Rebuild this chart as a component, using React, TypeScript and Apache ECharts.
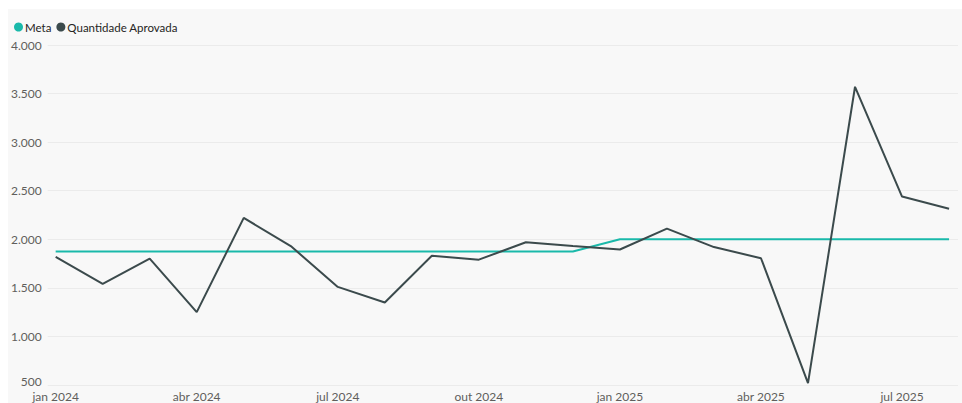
import React, { useEffect, useRef } from "react";
import * as echarts from "echarts";

const months = [
  "jan 2024", "fev 2024", "mar 2024", "abr 2024", "mai 2024", "jun 2024",
  "jul 2024", "ago 2024", "set 2024", "out 2024", "nov 2024", "dez 2024",
  "jan 2025", "fev 2025", "mar 2025", "abr 2025", "mai 2025", "jun 2025",
  "jul 2025", "ago 2025",
];
const meta = [
  1875, 1875, 1875, 1875, 1875, 1875, 1875, 1875, 1875, 1875, 1875, 1875,
  2000, 2000, 2000, 2000, 2000, 2000, 2000, 2000,
];
const quantidade = [
  1820, 1540, 1800, 1250, 2220, 1930, 1510, 1350, 1830, 1790, 1970, 1930,
  1895, 2110, 1920, 1805, 520, 3570, 2440, 2315,
];
const labelIdx = [0, 3, 6, 9, 12, 15, 18];

const fmt = (v: number) =>
  String(Math.round(v)).replace(/\B(?=(\d{3})+(?!\d))/g, ".");

export default function App() {
  const ref = useRef<HTMLDivElement>(null);
  useEffect(() => {
    document.body.style.margin = "0";
    const chart = echarts.init(ref.current!, undefined, { renderer: "svg" });
    const font = "'Segoe UI', Lato, 'Noto Sans', sans-serif";
    chart.setOption({
      animation: false,
      backgroundColor: "#f8f8f8",
      textStyle: { fontFamily: font },
      legend: {
        left: 1,
        top: 7,
        itemWidth: 9,
        itemHeight: 9,
        itemGap: 5,
        icon: "circle",
        textStyle: { fontSize: 11.5, color: "#252423", fontFamily: font, padding: [0, 0, 0, -3] },
        data: ["Meta", "Quantidade Aprovada"],
      },
      grid: { left: 37, right: 4, top: 36, bottom: 18 },
      xAxis: {
        type: "value",
        min: -0.17,
        max: 19.19,
        axisLine: { show: false },
        axisTick: { show: false },
        splitLine: { show: false },
        axisLabel: {
          customValues: labelIdx,
          formatter: (v: number) => months[Math.round(v)],
          fontSize: 12,
          color: "#605e5c",
          margin: 5,
          fontFamily: font,
        },
      },
      yAxis: {
        type: "value",
        min: 500,
        max: 4000,
        interval: 500,
        axisLine: { show: false },
        axisTick: { show: false },
        splitLine: { lineStyle: { color: "#ebebeb", width: 1 } },
        axisLabel: {
          formatter: (v: number) => (v === 500 ? "{b|500}" : fmt(v)),
          fontSize: 12,
          color: "#605e5c",
          margin: 6,
          fontFamily: font,
          rich: {
            b: { fontSize: 12, color: "#605e5c", fontFamily: font, padding: [0, 0, 8, 0] },
          },
        },
      },
      series: [
        {
          name: "Meta",
          type: "line",
          data: meta.map((v, i) => [i, v]),
          symbol: "none",
          itemStyle: { color: "#1ab9aa" },
          lineStyle: { color: "#1ab9aa", width: 2 },
        },
        {
          name: "Quantidade Aprovada",
          type: "line",
          data: quantidade.map((v, i) => [i, v]),
          symbol: "none",
          itemStyle: { color: "#3b4a4c" },
          lineStyle: { color: "#3b4a4c", width: 2 },
        },
      ],
    });
    return () => chart.dispose();
  }, []);
  return (
    <div style={{ width: 962, height: 403, background: "#ffffff", position: "relative" }}>
      <div
        ref={ref}
        style={{ position: "absolute", left: 8, top: 9, width: 954, height: 394 }}
      />
    </div>
  );
}
